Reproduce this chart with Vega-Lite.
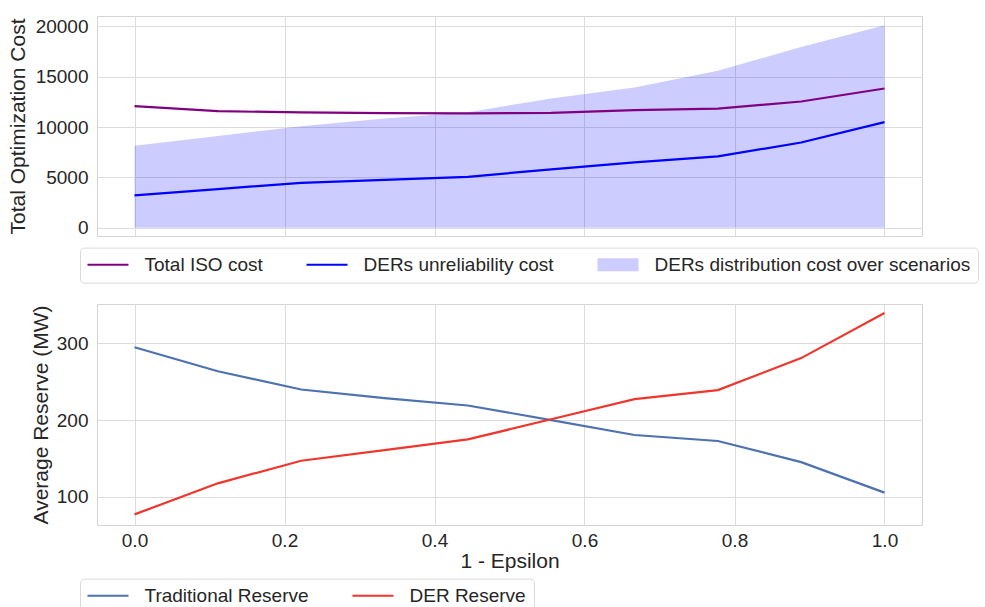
{
  "$schema": "https://vega.github.io/schema/vega-lite/v6.json",
  "autosize": {"type": "pad"},
  "padding": {"left": 6, "top": 15, "right": 0, "bottom": 0},
  "background": "white",
  "config": {
    "font": "Liberation Sans",
    "view": {"stroke": "#d4d4d4", "strokeWidth": 1},
    "axis": {
      "gridColor": "#dcdcdc", "gridWidth": 1, "domain": false, "ticks": false,
      "labelFontSize": 19, "labelColor": "#262626", "labelPadding": 9,
      "titleFontSize": 21, "titleFontWeight": "normal", "titleColor": "#262626", "titlePadding": 7
    },
    "legend": {
      "orient": "none", "direction": "horizontal", "title": null,
      "labelFontSize": 19, "labelColor": "#262626", "labelLimit": 0,
      "strokeColor": "#dadada", "fillColor": "white", "cornerRadius": 4, "padding": 7.5,
      "symbolSize": 100, "symbolStrokeWidth": 0, "symbolOffset": 11,
      "labelOffset": 27, "columnPadding": 43
    }
  },
  "datasets": {
    "cost": [
      {"x": 0.0, "series": "Total ISO cost", "value": 12070},
      {"x": 0.1111, "series": "Total ISO cost", "value": 11580},
      {"x": 0.2222, "series": "Total ISO cost", "value": 11450},
      {"x": 0.3333, "series": "Total ISO cost", "value": 11380},
      {"x": 0.4444, "series": "Total ISO cost", "value": 11350},
      {"x": 0.5556, "series": "Total ISO cost", "value": 11410},
      {"x": 0.6667, "series": "Total ISO cost", "value": 11680},
      {"x": 0.7778, "series": "Total ISO cost", "value": 11840},
      {"x": 0.8889, "series": "Total ISO cost", "value": 12540},
      {"x": 1.0, "series": "Total ISO cost", "value": 13830},
      {"x": 0.0, "series": "DERs unreliability cost", "value": 3210},
      {"x": 0.1111, "series": "DERs unreliability cost", "value": 3840},
      {"x": 0.2222, "series": "DERs unreliability cost", "value": 4460},
      {"x": 0.3333, "series": "DERs unreliability cost", "value": 4760},
      {"x": 0.4444, "series": "DERs unreliability cost", "value": 5060},
      {"x": 0.5556, "series": "DERs unreliability cost", "value": 5800},
      {"x": 0.6667, "series": "DERs unreliability cost", "value": 6490},
      {"x": 0.7778, "series": "DERs unreliability cost", "value": 7080},
      {"x": 0.8889, "series": "DERs unreliability cost", "value": 8470},
      {"x": 1.0, "series": "DERs unreliability cost", "value": 10490},
      {"x": 0.0, "series": "DERs distribution cost over scenarios", "value": 8140},
      {"x": 0.1111, "series": "DERs distribution cost over scenarios", "value": 9100},
      {"x": 0.2222, "series": "DERs distribution cost over scenarios", "value": 10090},
      {"x": 0.3333, "series": "DERs distribution cost over scenarios", "value": 10850},
      {"x": 0.4444, "series": "DERs distribution cost over scenarios", "value": 11480},
      {"x": 0.5556, "series": "DERs distribution cost over scenarios", "value": 12840},
      {"x": 0.6667, "series": "DERs distribution cost over scenarios", "value": 13930},
      {"x": 0.7778, "series": "DERs distribution cost over scenarios", "value": 15580},
      {"x": 0.8889, "series": "DERs distribution cost over scenarios", "value": 17960},
      {"x": 1.0, "series": "DERs distribution cost over scenarios", "value": 20110}
    ],
    "reserve": [
      {"x": 0.0, "series": "Traditional Reserve", "value": 294.8},
      {"x": 0.1111, "series": "Traditional Reserve", "value": 263.5},
      {"x": 0.2222, "series": "Traditional Reserve", "value": 239.8},
      {"x": 0.3333, "series": "Traditional Reserve", "value": 228.6},
      {"x": 0.4444, "series": "Traditional Reserve", "value": 219.0},
      {"x": 0.5556, "series": "Traditional Reserve", "value": 200.0},
      {"x": 0.6667, "series": "Traditional Reserve", "value": 180.6},
      {"x": 0.7778, "series": "Traditional Reserve", "value": 172.8},
      {"x": 0.8889, "series": "Traditional Reserve", "value": 145.3},
      {"x": 1.0, "series": "Traditional Reserve", "value": 105.6},
      {"x": 0.0, "series": "DER Reserve", "value": 77.3},
      {"x": 0.1111, "series": "DER Reserve", "value": 117.7},
      {"x": 0.2222, "series": "DER Reserve", "value": 147.1},
      {"x": 0.3333, "series": "DER Reserve", "value": 161.0},
      {"x": 0.4444, "series": "DER Reserve", "value": 174.8},
      {"x": 0.5556, "series": "DER Reserve", "value": 201.0},
      {"x": 0.6667, "series": "DER Reserve", "value": 227.3},
      {"x": 0.7778, "series": "DER Reserve", "value": 239.0},
      {"x": 0.8889, "series": "DER Reserve", "value": 280.6},
      {"x": 1.0, "series": "DER Reserve", "value": 339.2}
    ]
  },
  "spacing": 19,
  "resolve": {"scale": {"color": "independent"}, "legend": {"color": "independent"}},
  "vconcat": [
    {
      "width": 825,
      "height": 220,
      "data": {"name": "cost"},
      "encoding": {
        "x": {"field": "x", "type": "quantitative",
          "scale": {"domain": [-0.05, 1.05], "nice": false, "zero": false},
          "axis": {"values": [0, 0.2, 0.4, 0.6, 0.8, 1.0], "labels": false, "title": null}},
        "y": {"field": "value", "type": "quantitative",
          "scale": {"domain": [-820, 21030], "nice": false, "zero": false},
          "axis": {"values": [0, 5000, 10000, 15000, 20000], "format": "d", "title": "Total Optimization Cost"}}
      },
      "layer": [
        {
          "transform": [{"filter": "datum.series === 'DERs distribution cost over scenarios'"}],
          "mark": {"type": "area", "opacity": 0.2, "color": "#0000ff"},
          "encoding": {"y2": {"datum": 0}}
        },
        {
          "transform": [{"filter": "datum.series !== 'DERs distribution cost over scenarios'"}],
          "mark": {"type": "line", "strokeWidth": 2.2},
          "encoding": {
            "color": {"field": "series", "type": "nominal",
              "scale": {"domain": ["Total ISO cost", "DERs unreliability cost", "DERs distribution cost over scenarios"],
                        "range": ["#800080", "#0000ff", "#ccccff"]},
              "legend": {"legendX": -17, "legendY": 231.6, "columns": 3,
                "encode": {"symbols": {"update": {
                  "shape": {"signal": "datum.value === 'DERs distribution cost over scenarios' ? 'M-4.1,-1.3H4.1V1.3H-4.1Z' : 'M-4.1,-0.2H4.1V0.2H-4.1Z'"},
                  "fill": {"signal": "datum.value === 'DERs distribution cost over scenarios' ? '#ccccff' : (datum.value === 'Total ISO cost' ? '#800080' : '#0000ff')"},
                  "stroke": {"value": "transparent"},
                  "strokeWidth": {"value": 0},
                  "opacity": {"value": 1}
                }}}}}
          }
        }
      ]
    },
    {
      "width": 825,
      "height": 221,
      "data": {"name": "reserve"},
      "encoding": {
        "x": {"field": "x", "type": "quantitative",
          "scale": {"domain": [-0.05, 1.05], "nice": false, "zero": false},
          "axis": {"values": [0, 0.2, 0.4, 0.6, 0.8, 1.0], "format": ".1f", "title": "1 - Epsilon", "labelPadding": 6, "titlePadding": 0}},
        "y": {"field": "value", "type": "quantitative",
          "scale": {"domain": [63.5, 351], "nice": false, "zero": false},
          "axis": {"values": [100, 200, 300], "title": "Average Reserve (MW)", "titlePadding": 5}},
        "color": {"field": "series", "type": "nominal",
          "scale": {"domain": ["Traditional Reserve", "DER Reserve"], "range": ["#4c72b0", "#f0362c"]},
          "legend": {"legendX": -17, "legendY": 274.6, "columns": 2,
            "encode": {"symbols": {"update": {
              "shape": {"value": "M-4.1,-0.2H4.1V0.2H-4.1Z"},
              "fill": {"signal": "datum.value === 'DER Reserve' ? '#f0362c' : '#4c72b0'"},
              "stroke": {"value": "transparent"},
              "strokeWidth": {"value": 0},
              "opacity": {"value": 1}
            }}}}}
      },
      "layer": [
        {"mark": {"type": "line", "strokeWidth": 2.2}}
      ]
    }
  ]
}
